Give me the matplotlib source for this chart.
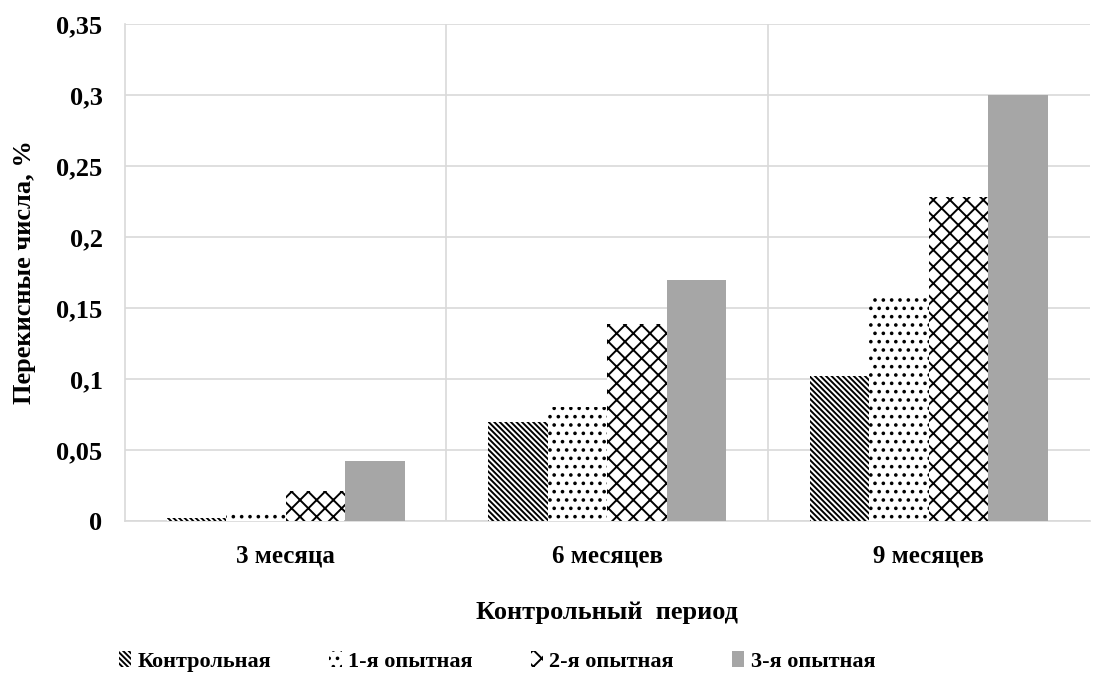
import numpy as np
import matplotlib
matplotlib.use("Agg")
import matplotlib.pyplot as plt

plt.rcParams['font.family'] = ['Liberation Serif', 'DejaVu Serif']
plt.rcParams['font.weight'] = 'bold'
plt.rcParams['hatch.linewidth'] = 1.4

periods = ["3 месяца", "6 месяцев", "9 месяцев"]
groups = ["Контрольная", "1-я опытная", "2-я опытная", "3-я опытная"]
control = [0.002, 0.070, 0.102]
exp1 = [0.005, 0.080, 0.158]
exp2 = [0.021, 0.139, 0.228]
exp3 = [0.042, 0.170, 0.300]
yticks = [0, 0.05, 0.1, 0.15, 0.2, 0.25, 0.3, 0.35]
ytick_labels = ["0", "0,05", "0,1", "0,15", "0,2", "0,25", "0,3", "0,35"]

fig = plt.figure(figsize=(10.95, 6.82), dpi=100)
ax = fig.add_axes([0.114, 0.236, 0.881, 0.729])

x = np.arange(len(periods))
w = 0.185
series = [control, exp1, exp2, exp3]
styles = [
    dict(facecolor='white', edgecolor='black', hatch='\\\\\\\\\\\\', linewidth=0),
    dict(facecolor='white', edgecolor='black', hatch='..', linewidth=0),
    dict(facecolor='white', edgecolor='black', hatch='xx', linewidth=0),
    dict(facecolor='#a6a6a6', edgecolor='#a6a6a6', linewidth=0),
]
handles = []
for i, (vals, st) in enumerate(zip(series, styles)):
    b = ax.bar(x + (i - 1.5) * w, vals, w, label=groups[i], zorder=3, **st)
    handles.append(b)

ax.set_ylim(0, 0.35)
ax.set_xlim(-0.5, 2.5)
ax.set_yticks(yticks)
ax.set_yticklabels(ytick_labels, fontsize=19, fontweight='bold')
ax.set_xticks(x)
ax.set_xticklabels(periods, fontsize=18, fontweight='bold')
ax.tick_params(axis='x', length=0, pad=17)
ax.tick_params(axis='y', length=0, pad=16)
ax.grid(axis='y', color='#d9d9d9', linewidth=1.2, zorder=0)
for bnd in [0.5, 1.5]:
    ax.axvline(bnd, color='#d9d9d9', linewidth=1.2, zorder=0)
for s in ['top', 'right']:
    ax.spines[s].set_visible(False)
ax.spines['left'].set_color('#d9d9d9')
ax.spines['bottom'].set_color('#d9d9d9')
ax.spines['left'].set_linewidth(1.2)
ax.spines['bottom'].set_linewidth(1.2)

ax.set_ylabel("Перекисные числа, %", fontsize=19, fontweight='bold')
ax.yaxis.set_label_coords(-0.092, 0.5)
ax.set_xlabel("Контрольный  период", fontsize=19, fontweight='bold')
ax.xaxis.set_label_coords(0.5, -0.16)

fig.legend(handles=handles, loc='center', bbox_to_anchor=(0.454, 0.03), ncol=4,
           frameon=False, prop={'size': 16, 'weight': 'bold'}, handlelength=0.55,
           handleheight=0.75, handletextpad=0.3, columnspacing=2.6)

fig.savefig("out.png", dpi=100)
